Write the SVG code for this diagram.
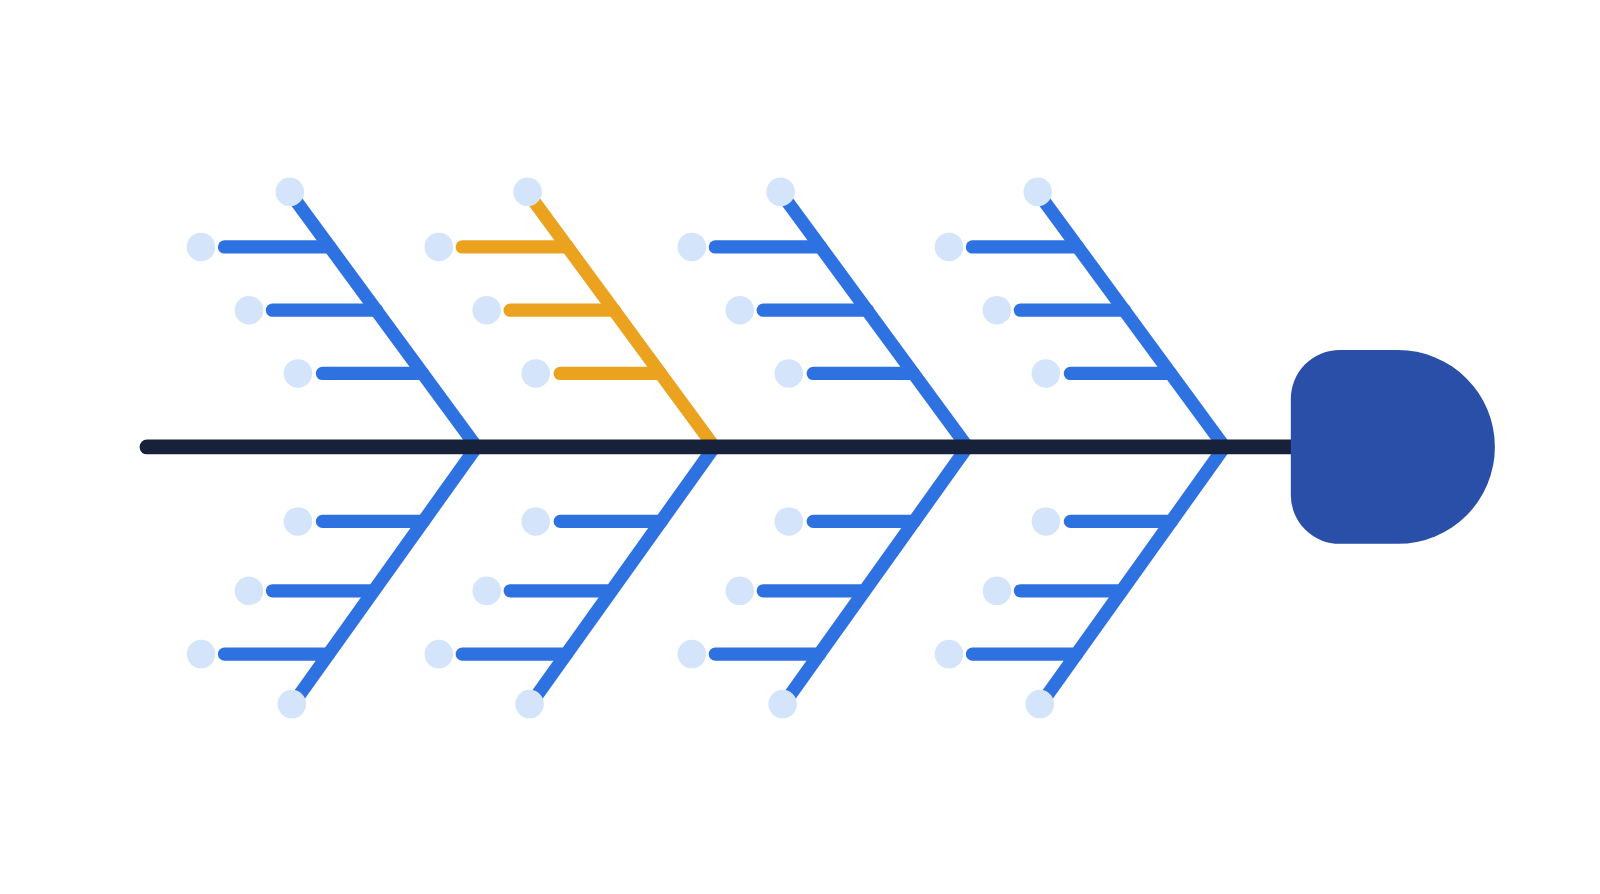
<svg xmlns="http://www.w3.org/2000/svg" width="1600" height="894" viewBox="0 0 1600 894">
<style>
.b{stroke:#2e72e2;stroke-width:13;stroke-linecap:round;fill:none}
.o{stroke:#eaa21f;stroke-width:13;stroke-linecap:round;fill:none}
.spine{stroke:#17213a;stroke-width:14.5;stroke-linecap:round}
.dot{fill:#d4e5fb}
.head{fill:#2a4fa8}
</style>
<rect width="1600" height="894" fill="#ffffff"/>
<g id="diagram" transform="scale(1.0204)">
<g id="connectors">
  <g id="bone1" transform="translate(0,0)">
    <line class="b" x1="285" y1="190" x2="467" y2="438"/>
    <line class="b" x1="220" y1="242" x2="323" y2="242"/>
    <line class="b" x1="267" y1="304" x2="369" y2="304"/>
    <line class="b" x1="316" y1="366" x2="414" y2="366"/>
    <line class="b" x1="467" y1="438" x2="287" y2="690"/>
    <line class="b" x1="316" y1="511" x2="415" y2="511"/>
    <line class="b" x1="267" y1="579" x2="366" y2="579"/>
    <line class="b" x1="220" y1="641" x2="322" y2="641"/>
  </g>
  <g id="bone2" transform="translate(233,0)">
    <line class="o" x1="285" y1="190" x2="467" y2="438"/>
    <line class="o" x1="220" y1="242" x2="323" y2="242"/>
    <line class="o" x1="267" y1="304" x2="369" y2="304"/>
    <line class="o" x1="316" y1="366" x2="414" y2="366"/>
    <line class="b" x1="467" y1="438" x2="287" y2="690"/>
    <line class="b" x1="316" y1="511" x2="415" y2="511"/>
    <line class="b" x1="267" y1="579" x2="366" y2="579"/>
    <line class="b" x1="220" y1="641" x2="322" y2="641"/>
  </g>
  <g id="bone3" transform="translate(481,0)">
    <line class="b" x1="285" y1="190" x2="467" y2="438"/>
    <line class="b" x1="220" y1="242" x2="323" y2="242"/>
    <line class="b" x1="267" y1="304" x2="369" y2="304"/>
    <line class="b" x1="316" y1="366" x2="414" y2="366"/>
    <line class="b" x1="467" y1="438" x2="287" y2="690"/>
    <line class="b" x1="316" y1="511" x2="415" y2="511"/>
    <line class="b" x1="267" y1="579" x2="366" y2="579"/>
    <line class="b" x1="220" y1="641" x2="322" y2="641"/>
  </g>
  <g id="bone4" transform="translate(733,0)">
    <line class="b" x1="285" y1="190" x2="467" y2="438"/>
    <line class="b" x1="220" y1="242" x2="323" y2="242"/>
    <line class="b" x1="267" y1="304" x2="369" y2="304"/>
    <line class="b" x1="316" y1="366" x2="414" y2="366"/>
    <line class="b" x1="467" y1="438" x2="287" y2="690"/>
    <line class="b" x1="316" y1="511" x2="415" y2="511"/>
    <line class="b" x1="267" y1="579" x2="366" y2="579"/>
    <line class="b" x1="220" y1="641" x2="322" y2="641"/>
  </g>
  <line id="spine" class="spine" x1="144" y1="438" x2="1268" y2="438"/>
</g>
<g id="head">
  <path class="head" d="M1313,343 H1370 A95,95 0 0 1 1370,533 H1313 A48,48 0 0 1 1265,485 V391 A48,48 0 0 1 1313,343 Z"/>
</g>
<g id="dots1">
  <g id="d1a"><circle class="dot" cx="284" cy="188" r="14"/></g>
  <g id="d1b"><circle class="dot" cx="197" cy="242" r="14"/></g>
  <g id="d1c"><circle class="dot" cx="244" cy="304" r="14"/></g>
  <g id="d1d"><circle class="dot" cx="292" cy="366" r="14"/></g>
  <g id="d1e"><circle class="dot" cx="292" cy="511" r="14"/></g>
  <g id="d1f"><circle class="dot" cx="244" cy="579" r="14"/></g>
  <g id="d1g"><circle class="dot" cx="197" cy="641" r="14"/></g>
  <g id="d1h"><circle class="dot" cx="286" cy="690" r="14"/></g>
</g>
<g id="dots2" transform="translate(233,0)">
  <g id="d2a"><circle class="dot" cx="284" cy="188" r="14"/></g>
  <g id="d2b"><circle class="dot" cx="197" cy="242" r="14"/></g>
  <g id="d2c"><circle class="dot" cx="244" cy="304" r="14"/></g>
  <g id="d2d"><circle class="dot" cx="292" cy="366" r="14"/></g>
  <g id="d2e"><circle class="dot" cx="292" cy="511" r="14"/></g>
  <g id="d2f"><circle class="dot" cx="244" cy="579" r="14"/></g>
  <g id="d2g"><circle class="dot" cx="197" cy="641" r="14"/></g>
  <g id="d2h"><circle class="dot" cx="286" cy="690" r="14"/></g>
</g>
<g id="dots3" transform="translate(481,0)">
  <g id="d3a"><circle class="dot" cx="284" cy="188" r="14"/></g>
  <g id="d3b"><circle class="dot" cx="197" cy="242" r="14"/></g>
  <g id="d3c"><circle class="dot" cx="244" cy="304" r="14"/></g>
  <g id="d3d"><circle class="dot" cx="292" cy="366" r="14"/></g>
  <g id="d3e"><circle class="dot" cx="292" cy="511" r="14"/></g>
  <g id="d3f"><circle class="dot" cx="244" cy="579" r="14"/></g>
  <g id="d3g"><circle class="dot" cx="197" cy="641" r="14"/></g>
  <g id="d3h"><circle class="dot" cx="286" cy="690" r="14"/></g>
</g>
<g id="dots4" transform="translate(733,0)">
  <g id="d4a"><circle class="dot" cx="284" cy="188" r="14"/></g>
  <g id="d4b"><circle class="dot" cx="197" cy="242" r="14"/></g>
  <g id="d4c"><circle class="dot" cx="244" cy="304" r="14"/></g>
  <g id="d4d"><circle class="dot" cx="292" cy="366" r="14"/></g>
  <g id="d4e"><circle class="dot" cx="292" cy="511" r="14"/></g>
  <g id="d4f"><circle class="dot" cx="244" cy="579" r="14"/></g>
  <g id="d4g"><circle class="dot" cx="197" cy="641" r="14"/></g>
  <g id="d4h"><circle class="dot" cx="286" cy="690" r="14"/></g>
</g>
</g>
</svg>
